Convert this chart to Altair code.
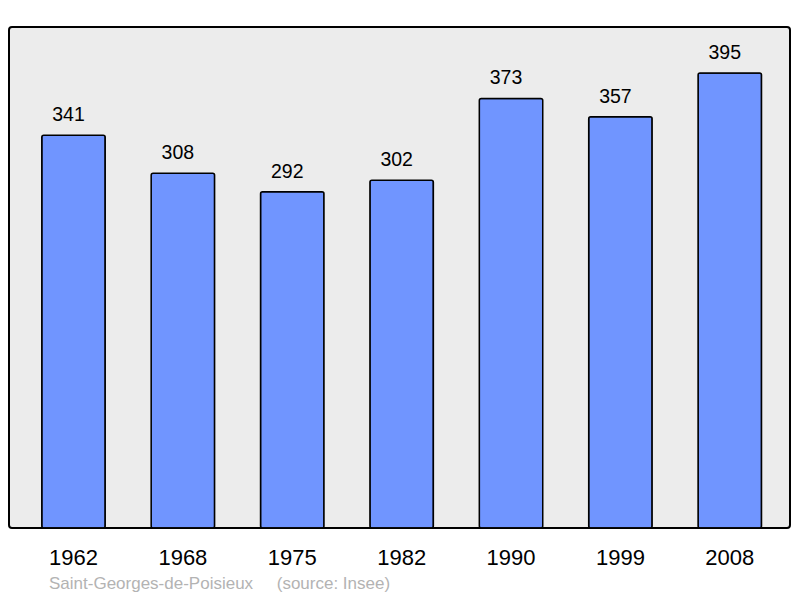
import altair as alt
import pandas as pd

years = ["1962", "1968", "1975", "1982", "1990", "1999", "2008"]
population = [341, 308, 292, 302, 373, 357, 395]

df = pd.DataFrame({"year": years, "pop": population})

FONT = "Liberation Sans"
NB = "\u00a0"

x = alt.X(
    "year:N",
    sort=years,
    title=None,
    scale=alt.Scale(paddingInner=0.42, paddingOuter=0.28, align=0.535),
    axis=alt.Axis(
        labelAngle=0,
        labelFontSize=22,
        labelFont=FONT,
        labelColor="black",
        labelPadding=19,
        ticks=False,
        domain=False,
        grid=False,
    ),
)
y = alt.Y(
    "pop:Q",
    title=None,
    scale=alt.Scale(domain=[0, 435], nice=False, zero=True),
    axis=None,
)

bars = alt.Chart(df).mark_bar(
    color="#7095ff", stroke="black", strokeWidth=1.5, cornerRadius=2
).encode(x=x, y=y)

labels = alt.Chart(df).mark_text(
    baseline="alphabetic", dy=-14, dx=-5, fontSize=19.5, font=FONT, color="black"
).encode(x=alt.X("year:N", sort=years), y="pop:Q", text="pop:Q")

chart = (
    alt.layer(bars, labels)
    .properties(
        width=781,
        height=501,
        autosize=alt.AutoSizeParams(type="none"),
        padding={"left": 1, "top": 19, "right": 2, "bottom": 67},
        background="white",
        title=alt.TitleParams(
            text="Saint-Georges-de-Poisieux" + NB * 4 + " (source: Insee)",
            orient="bottom",
            anchor="start",
            dx=40,
            offset=21,
            baseline="alphabetic",
            fontSize=17,
            fontWeight="normal",
            font=FONT,
            color="#b3b3b3",
        ),
    )
    .configure_view(fill="#ececec", stroke="black", strokeWidth=2, cornerRadius=3)
)

chart.save("out.html", embed_options={"renderer": "svg", "actions": False})
